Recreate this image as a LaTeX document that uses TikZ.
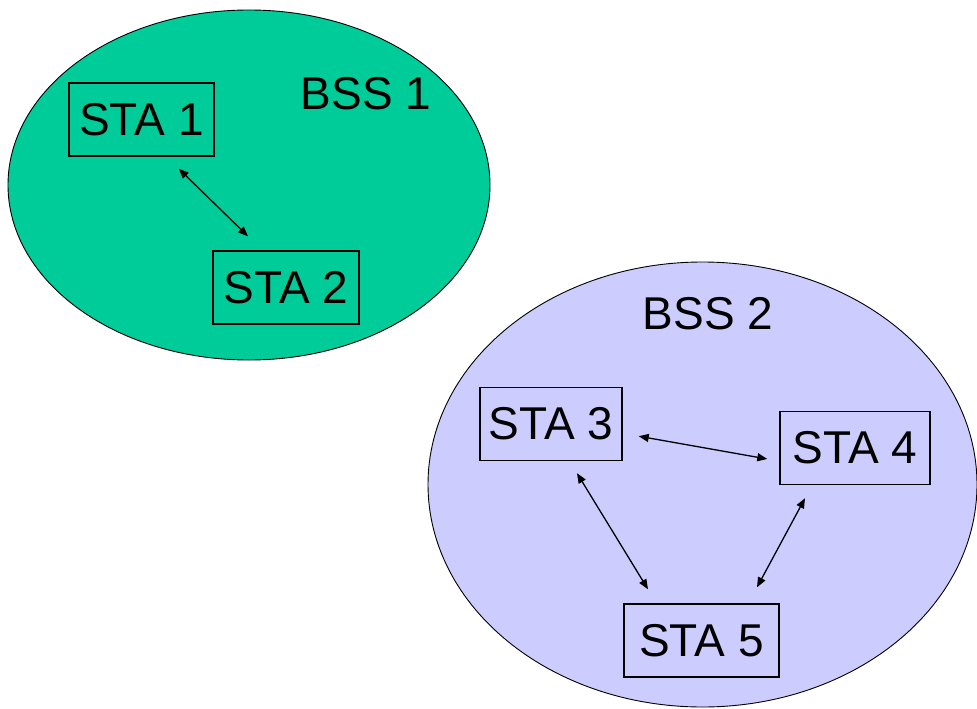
\documentclass[tikz,border=0pt]{standalone}
\usepackage{fontspec}
\setmainfont{Liberation Sans}
\usetikzlibrary{arrows.meta,calc}
\definecolor{bssgreen}{RGB}{0,204,153}
\definecolor{bsslav}{RGB}{204,204,255}
\tikzset{
  stabox/.style={draw=black, line width=1.4pt, inner sep=0pt, minimum height=73pt,
    font=\fontsize{46}{50}\selectfont},
  bsslabel/.style={inner sep=0pt, font=\fontsize{46}{50}\selectfont},
  bssarea/.style={draw=black, line width=0.9pt},
  link/.style={line width=1.3pt, {Triangle[length=10pt,width=8pt]}-{Triangle[length=10pt,width=8pt]}}
}
\begin{document}
\begin{tikzpicture}[x=1pt,y=-1pt]
\path[use as bounding box, fill=white] (0,0) rectangle (977,709);
\clip (0,0) rectangle (977,709);
\draw[bssarea, fill=bssgreen] (249,185) ellipse [x radius=241, y radius=175];
\draw[bssarea, fill=bsslav] (702.5,484.5) ellipse [x radius=274.5, y radius=222.5];
\node[bsslabel] (bss1) at (366,93.5) {BSS 1};
\node[bsslabel] (bss2) at (708,314) {BSS 2};
\node[stabox, minimum width=145pt] (sta1) at (141.5,119.5) {STA 1};
\node[stabox, minimum width=146pt] (sta2) at (286,287.5) {STA 2};
\node[stabox, minimum width=142pt] (sta3) at (551,424) {STA 3};
\node[stabox, minimum width=150pt] (sta4) at (855,448) {STA 4};
\node[stabox, minimum width=155pt] (sta5) at (701.5,640.5) {STA 5};
\draw[link] ($(sta1.south east)+(-36,12)$) -- ($(sta2.north)+(-38,-14)$);
\draw[link] ($(sta3.south east)+(16,-25)$) -- ($(sta4.west)+(-12,11)$);
\draw[link] ($(sta3.south)+(26,12)$) -- ($(sta5.north)+(-53.5,-14)$);
\draw[link] ($(sta4.south)+(-50,13)$) -- ($(sta5.north)+(55.5,-16)$);
\end{tikzpicture}
\end{document}
